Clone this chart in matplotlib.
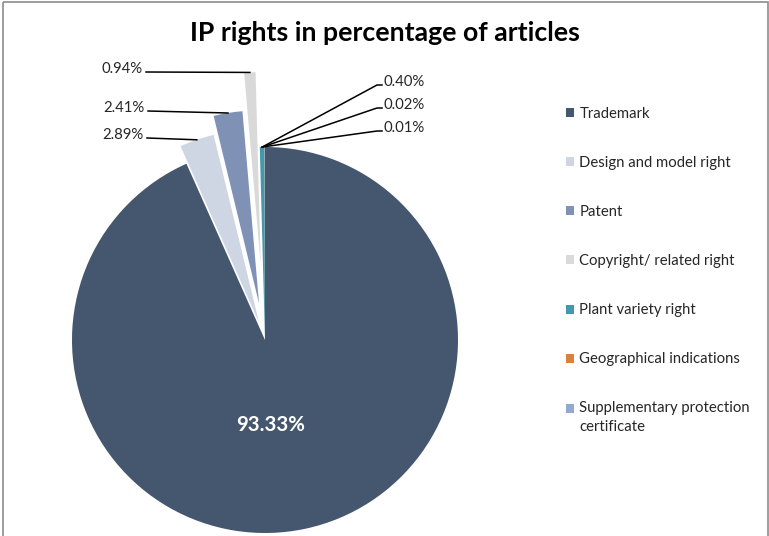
import numpy as np
import matplotlib.pyplot as plt
from matplotlib.patches import Rectangle

# data
labels = ["Trademark", "Design and model right", "Patent", "Copyright/ related right",
          "Plant variety right", "Geographical indications",
          "Supplementary protection\ncertificate"]
shares = [93.33, 2.89, 2.41, 0.94, 0.40, 0.02, 0.01]

colors = ["#44576f", "#cdd6e2", "#7f92b6", "#d9d9d9", "#4298ae", "#e07f3c", "#94a9d0"]
explode_px = [0, 18.5, 37, 75, 0, 0, 0]

plt.rcParams['font.family'] = ['Lato', 'DejaVu Sans']

W, H = 769, 536
fig = plt.figure(figsize=(W / 100, H / 100), dpi=100)
ax = fig.add_axes([0, 0, 1, 1])

cx, cy, R = 265, 340, 193
# y axis is flipped: start at -90 (screen top), counterclock in data = clockwise on screen
wedges, _ = ax.pie(shares, colors=colors, explode=explode_px, startangle=-90,
                   counterclock=True, radius=R, center=(cx, cy), frame=True,
                   wedgeprops=dict(linewidth=0))
ax.set_xlim(0, W)
ax.set_ylim(H, 0)  # pixel coordinates, y down
ax.axis("off")


def arc_mid(w):
    t = np.deg2rad((w.theta1 + w.theta2) / 2)
    x0, y0 = w.center
    return x0 + w.r * np.cos(t), y0 + w.r * np.sin(t)


fs = 10.7
# labels on the left (design, patent, copyright)
left_pos = {1: (144, 135), 2: (145, 108), 3: (143, 69)}
for i, (tx, ty) in left_pos.items():
    ax.text(tx, ty, f"{shares[i]:.2f}%", ha="right", va="center", fontsize=fs, color="#262626")
    mx, my = arc_mid(wedges[i])
    ax.plot([tx + 3, mx], [ty + 3, my], color="black", lw=1.1)

# labels on the right (tiny slices)
right_pos = {4: (383, 82), 5: (383, 105), 6: (383, 128)}
for i, (tx, ty) in right_pos.items():
    ax.text(tx, ty, f"{shares[i]:.2f}%", ha="left", va="center", fontsize=fs, color="#262626")
    mx, my = arc_mid(wedges[4])
    ax.plot([mx, tx - 6, tx - 1], [my, ty + 3, ty + 3], color="black", lw=1.1)

ax.text(271, 425, f"{shares[0]:.2f}%", ha="center", va="center", fontsize=14.7,
        fontweight="bold", color="white")

ax.text(385, 33, "IP rights in percentage of articles", ha="center", va="center",
        fontsize=19.2, fontweight="bold", color="black")

leg = ax.legend(wedges, labels, loc="upper left", bbox_to_anchor=(566 / W, 1 - 107 / H),
                bbox_transform=fig.transFigure, frameon=False, fontsize=fs,
                handlelength=0.55, handleheight=0.55, handletextpad=0.35,
                labelspacing=2.36, borderpad=0, borderaxespad=0)
for t in leg.get_texts():
    t.set_color("#262626")
leg.get_texts()[-1].set_linespacing(1.4)
# keep the last marker next to the first line of its two-line label
last = leg.legend_handles[-1]
last.set_y(last.get_y() + 7)

# outer chart border
ax.add_patch(Rectangle((3, 2), 765, 540, fill=False, edgecolor="#8c8c8c", lw=1.2,
                       clip_on=False))

fig.savefig("out.png", dpi=100)
